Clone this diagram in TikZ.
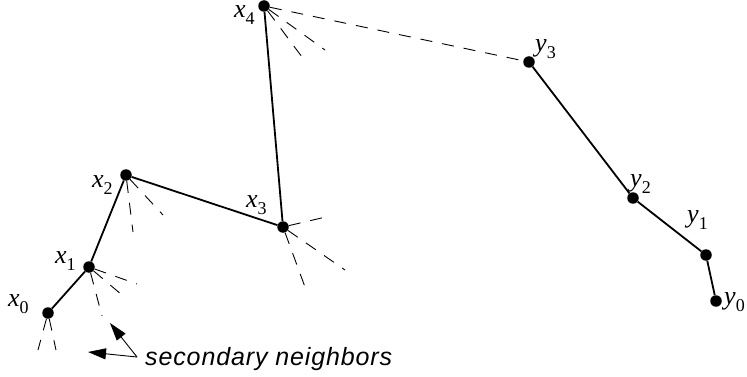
\documentclass[tikz,border=0pt]{standalone}
\usepackage{fontspec}
\setmainfont{Liberation Serif}
\setsansfont{Liberation Sans}
\usetikzlibrary{arrows.meta}
\newcommand\lbltxt[2]{\fontsize{26}{26}\selectfont\itshape #1\/\raisebox{-7pt}{\upshape\fontsize{18}{18}\selectfont #2}}
\begin{document}
\begin{tikzpicture}[x=1pt,y=-1pt,
  dot/.style={circle,fill=black,inner sep=0pt,minimum size=11.5pt},
  chain/.style={line width=1.8pt},
  ray/.style={line width=0.9pt,dash pattern=on 12pt off 10pt},
  lbl/.style={anchor=base west,inner sep=0pt},
  ptr/.style={line width=0.9pt,-{Triangle[length=18pt,width=11pt]}}]
\useasboundingbox (0,0) rectangle (747,377);
% points
\node[dot] (x0) at (48,313) {};
\node[dot] (x1) at (89,267) {};
\node[dot] (x2) at (126,175) {};
\node[dot] (x3) at (283,227) {};
\node[dot] (x4) at (264,6) {};
\node[dot] (y3) at (529,62) {};
\node[dot] (y2) at (633,198) {};
\node[dot] (y1) at (706,255) {};
\node[dot] (y0) at (716,301) {};
% solid chains
\draw[chain] (x0) -- (x1) -- (x2) -- (x3) -- (x4);
\draw[chain] (y3) -- (y2) -- (y1) -- (y0);
% dashed link
\draw[ray] (x4) -- (y3);
% fan ends
\coordinate (x4a) at (302,57);
\coordinate (x4b) at (325,50);
\coordinate (x3a) at (330,216);
\coordinate (x3b) at (345,270);
\coordinate (x3c) at (305,287);
\coordinate (x2a) at (133,232);
\coordinate (x2b) at (163,215);
\coordinate (x1a) at (137,284);
\coordinate (x1b) at (122,295);
\coordinate (x1c) at (102,316);
\coordinate (x0a) at (38,350);
\coordinate (x0b) at (56,350);
\foreach \s/\e in {x4/x4a,x4/x4b,x3/x3a,x3/x3b,x3/x3c,x2/x2a,x2/x2b,x1/x1a,x1/x1b,x1/x1c,x0/x0a,x0/x0b}
  \draw[ray] (\s) -- (\e);
% labels
\node[lbl] (lx0) at (8,306) {\lbltxt{x}{0}};
\node[lbl] (lx1) at (55,263) {\lbltxt{x}{1}};
\node[lbl] (lx2) at (92,187) {\lbltxt{x}{2}};
\node[lbl] (lx3) at (246,207) {\lbltxt{x}{3}};
\node[lbl] (lx4) at (234,18) {\lbltxt{x}{4}};
\node[lbl] (ly3) at (535,52) {\lbltxt{y}{3}};
\node[lbl] (ly2) at (630,186) {\lbltxt{y}{2}};
\node[lbl] (ly1) at (687,222) {\lbltxt{y}{1}};
\node[lbl] (ly0) at (724,304) {\lbltxt{y}{0}};
% secondary neighbors
\node[lbl] (sec) at (145,365) {\sffamily\itshape\fontsize{25}{25}\selectfont\addfontfeature{LetterSpace=3.5}secondary neighbors};
\coordinate (src) at (137,357);
\coordinate (t1) at (88,352);
\coordinate (t2) at (110,323);
\draw[ptr] (src) -- (t1);
\draw[ptr] (src) -- (t2);
\end{tikzpicture}
\end{document}
